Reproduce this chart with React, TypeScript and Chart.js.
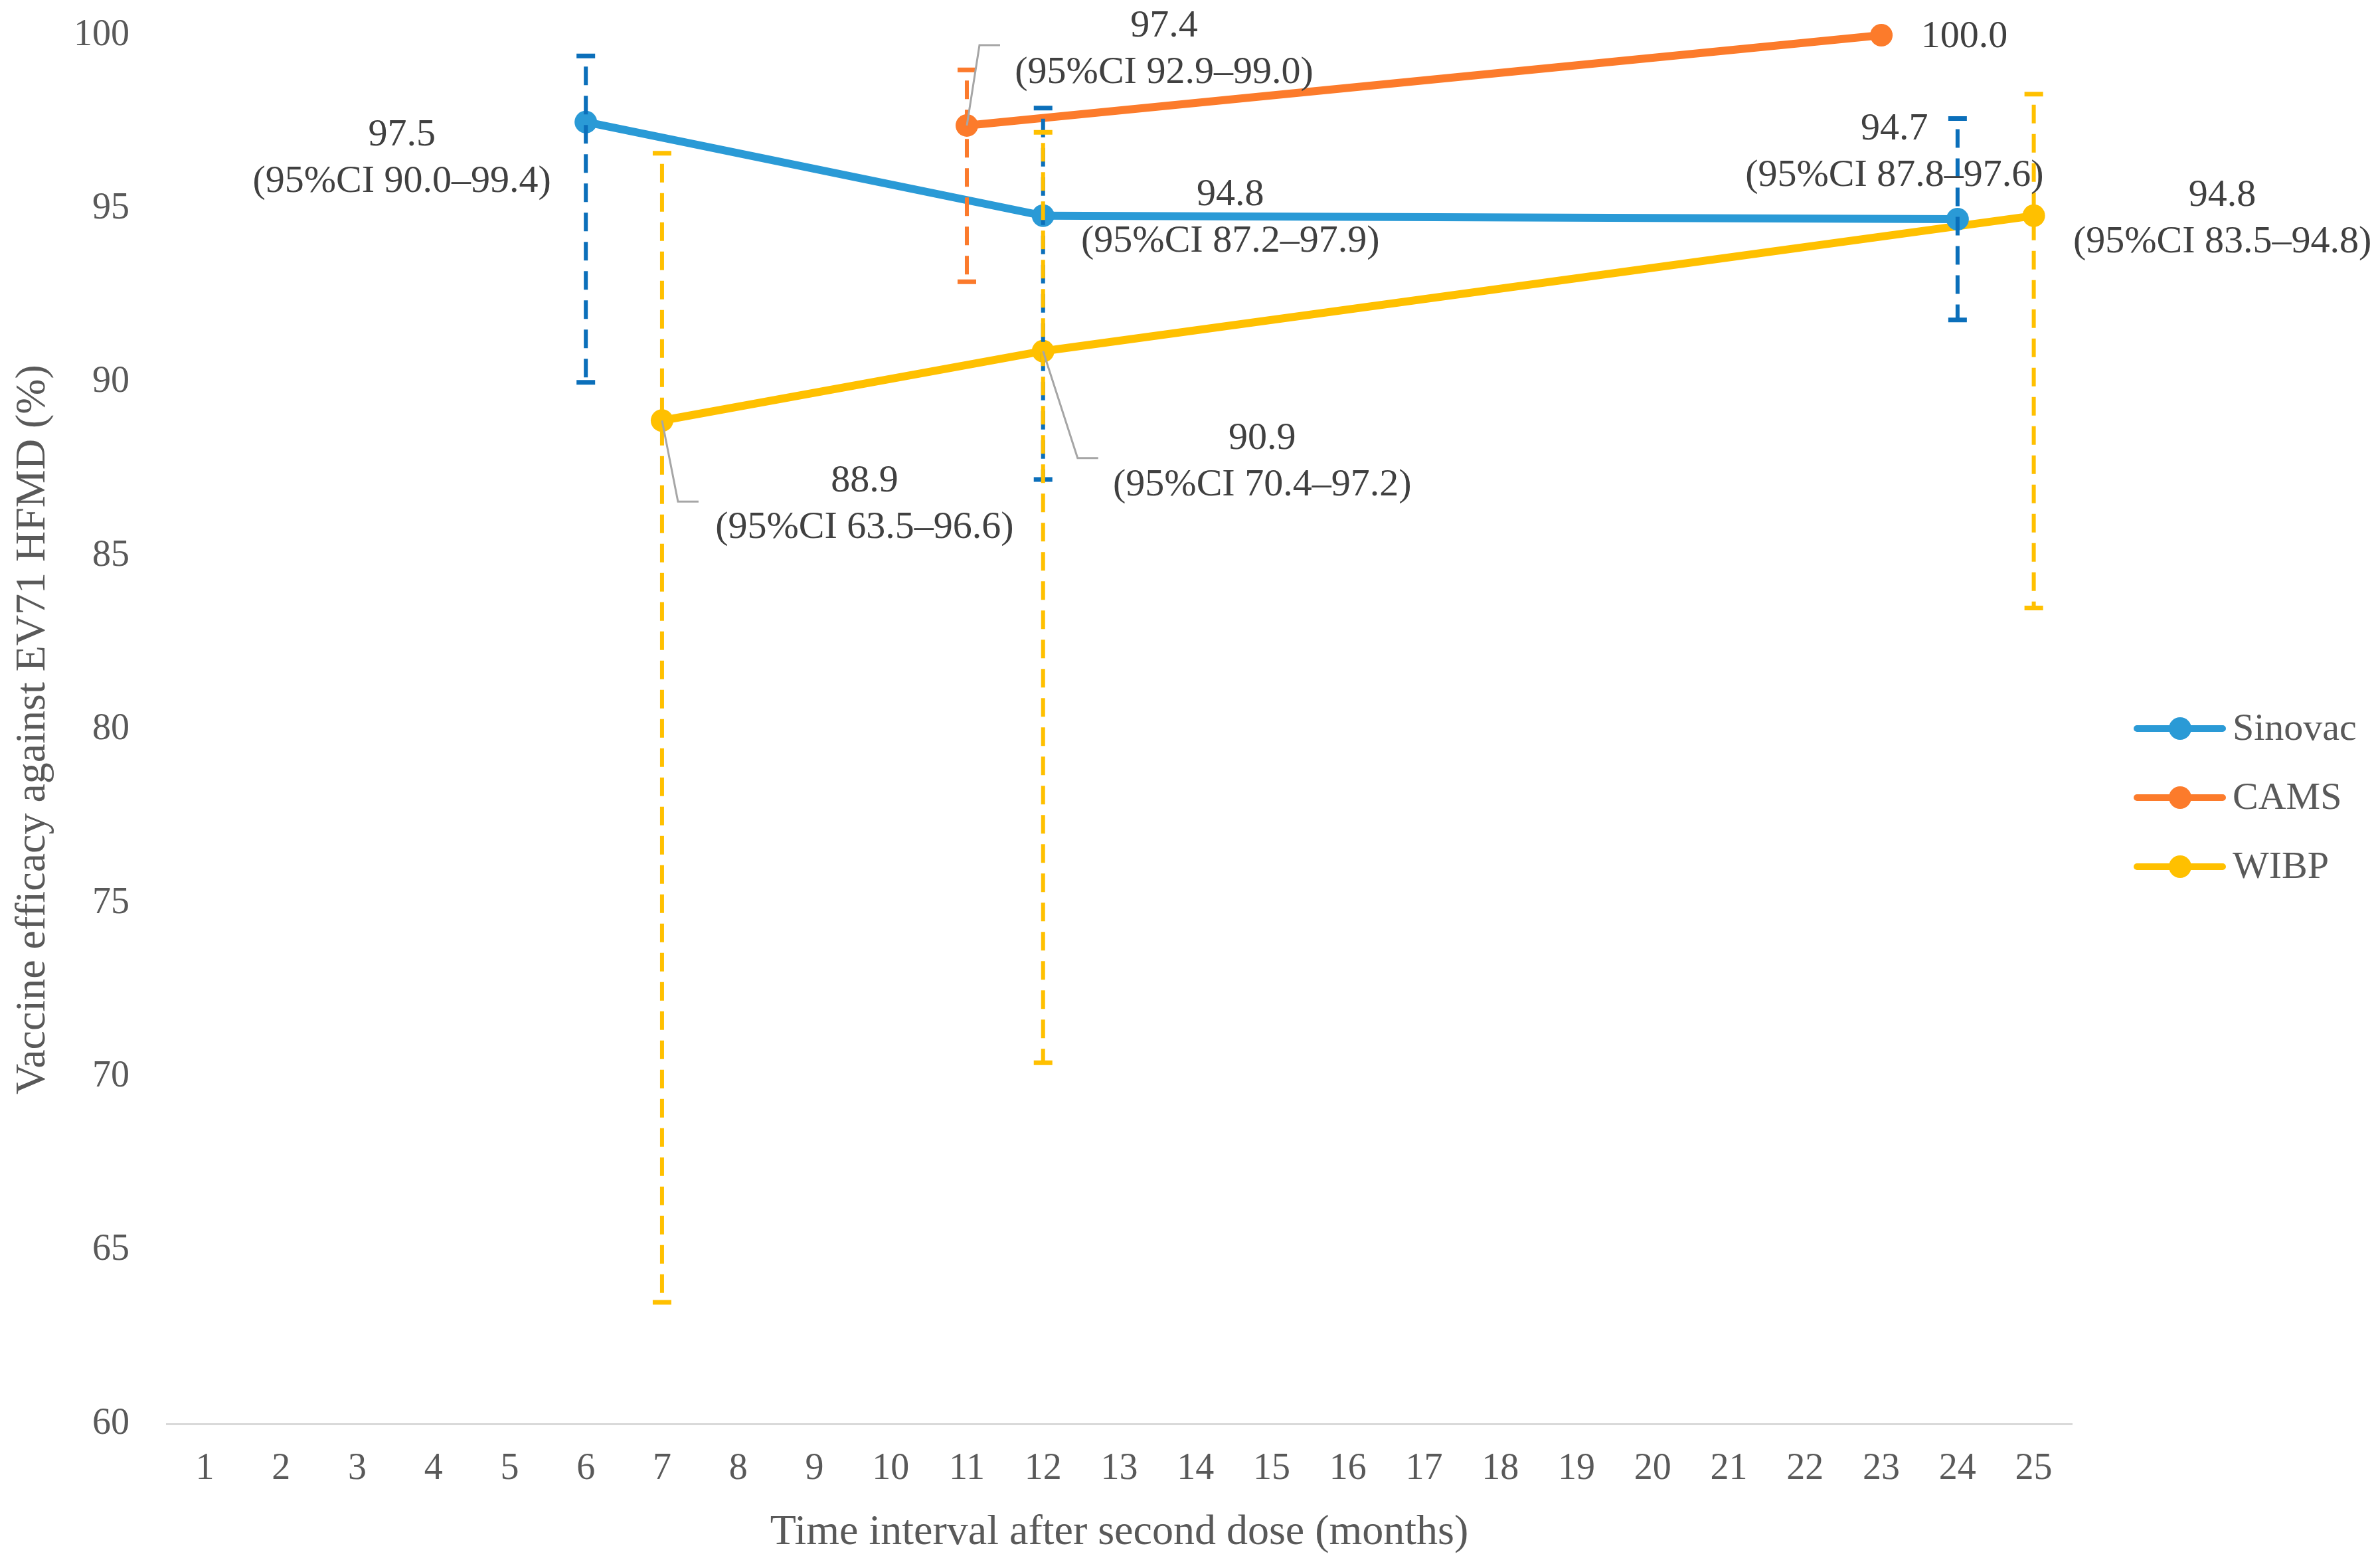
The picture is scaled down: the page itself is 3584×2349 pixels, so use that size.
import { useEffect, useRef } from "react"
import { Chart, registerables } from "chart.js"
import type { Plugin } from "chart.js"

Chart.register(...registerables)

// x categories (months after second dose)
const months = ["1", "2", "3", "4", "5", "6", "7", "8", "9", "10", "11", "12", "13", "14", "15", "16", "17", "18", "19", "20", "21", "22", "23", "24", "25"]

const sinovacMonths = [6, 12, 24]
const sinovacVE = [97.5, 94.8, 94.7]
const sinovacLow = [90.0, 87.2, 91.8]
const sinovacHigh = [99.4, 97.9, 97.6]
const sinovacCI = ["(95%CI 90.0–99.4)", "(95%CI 87.2–97.9)", "(95%CI 87.8–97.6)"]

const camsMonths = [11, 23]
const camsVE = [97.4, 100.0]
const camsLow: (number | null)[] = [92.9, null]
const camsHigh: (number | null)[] = [99.0, null]
const camsCI: (string | null)[] = ["(95%CI 92.9–99.0)", null]

const wibpMonths = [7, 12, 25]
const wibpVE = [88.9, 90.9, 94.8]
const wibpLow = [63.5, 70.4, 83.5]
const wibpHigh = [96.6, 97.2, 98.3]
const wibpCI = ["(95%CI 63.5–96.6)", "(95%CI 70.4–97.2)", "(95%CI 83.5–94.8)"]

const FONT = '"Liberation Serif", "Times New Roman", serif'
const TEXT = "#404040"
const AXIS_TEXT = "#595959"

const toSeries = (ms: number[], vals: number[]) =>
  months.map((m) => {
    const i = ms.indexOf(Number(m))
    return i >= 0 ? vals[i] : null
  })

interface SeriesMeta {
  months: number[]
  values: number[]
  low: (number | null)[]
  high: (number | null)[]
  ci: (string | null)[]
  barColor: string
  // label placement relative to the point, in px
  labelPos: [number, number][]
  leaders: ([number, number][] | null)[]
}

const meta: SeriesMeta[] = [
  {
    months: sinovacMonths,
    values: sinovacVE,
    low: sinovacLow,
    high: sinovacHigh,
    ci: sinovacCI,
    barColor: "#0B6FBA",
    labelPos: [[-277, 20], [282, -31], [-95, -135]],
    leaders: [null, null, null],
  },
  {
    months: camsMonths,
    values: camsVE,
    low: camsLow,
    high: camsHigh,
    ci: camsCI,
    barColor: "#FB7A2C",
    labelPos: [[297, -149], [125, 3]],
    leaders: [[[0, 0], [19, -121], [50, -121]], null],
  },
  {
    months: wibpMonths,
    values: wibpVE,
    low: wibpLow,
    high: wibpHigh,
    ci: wibpCI,
    barColor: "#FFC000",
    labelPos: [[305, 92], [330, 132], [284, -30]],
    leaders: [[[0, 0], [24, 122], [55, 122]], [[0, 0], [52, 161], [83, 161]], null],
  },
]

const errorBars: Plugin<"line"> = {
  id: "errorBars",
  afterDatasetsDraw(chart) {
    const { ctx } = chart
    const x = chart.scales.x
    const y = chart.scales.y
    ctx.save()
    meta.forEach((s) => {
      s.months.forEach((m, i) => {
        const lo = s.low[i]
        const hi = s.high[i]
        if (lo == null || hi == null) return
        const px = x.getPixelForValue(months.indexOf(String(m)))
        const top = y.getPixelForValue(hi)
        const bot = y.getPixelForValue(lo)
        ctx.strokeStyle = s.barColor
        ctx.lineWidth = 6
        ctx.setLineDash([28, 16])
        ctx.lineDashOffset = -16
        ctx.beginPath()
        ctx.moveTo(px, top)
        ctx.lineTo(px, bot)
        ctx.stroke()
        ctx.setLineDash([])
        ctx.lineWidth = 7
        ctx.beginPath()
        ctx.moveTo(px - 14, top)
        ctx.lineTo(px + 14, top)
        ctx.moveTo(px - 14, bot)
        ctx.lineTo(px + 14, bot)
        ctx.stroke()
      })
    })
    ctx.restore()
  },
}

const valueLabels: Plugin<"line"> = {
  id: "valueLabels",
  afterDraw(chart) {
    const { ctx } = chart
    const x = chart.scales.x
    const y = chart.scales.y
    ctx.save()
    meta.forEach((s) => {
      s.months.forEach((m, i) => {
        const px = x.getPixelForValue(months.indexOf(String(m)))
        const py = y.getPixelForValue(s.values[i])
        const lead = s.leaders[i]
        if (lead) {
          ctx.strokeStyle = "#A6A6A6"
          ctx.lineWidth = 3
          ctx.beginPath()
          lead.forEach(([dx, dy], k) => (k === 0 ? ctx.moveTo(px + dx, py + dy) : ctx.lineTo(px + dx, py + dy)))
          ctx.stroke()
        }
        const [dx, dy] = s.labelPos[i]
        ctx.fillStyle = TEXT
        ctx.font = `58px ${FONT}`
        ctx.textAlign = "center"
        ctx.textBaseline = "middle"
        ctx.fillText(s.values[i].toFixed(1), px + dx, py + dy)
        const ci = s.ci[i]
        if (ci) ctx.fillText(ci, px + dx, py + dy + 70)
      })
    })
    ctx.restore()
  },
}

const sideLegend: Plugin<"line"> = {
  id: "sideLegend",
  afterDraw(chart) {
    const { ctx, chartArea } = chart
    ctx.save()
    chart.data.datasets.forEach((ds, i) => {
      const cy = 1097 + i * 104
      const x0 = chartArea.right + 98
      const color = ds.borderColor as string
      ctx.strokeStyle = color
      ctx.lineWidth = 10
      ctx.lineCap = "round"
      ctx.beginPath()
      ctx.moveTo(x0, cy)
      ctx.lineTo(x0 + 129, cy)
      ctx.stroke()
      ctx.fillStyle = color
      ctx.beginPath()
      ctx.arc(x0 + 65, cy, 17, 0, Math.PI * 2)
      ctx.fill()
      ctx.fillStyle = AXIS_TEXT
      ctx.font = `58px ${FONT}`
      ctx.textAlign = "left"
      ctx.textBaseline = "middle"
      ctx.fillText(ds.label ?? "", x0 + 144, cy + 2)
    })
    ctx.restore()
  },
}

const lineStyle = (color: string) => ({
  borderColor: color,
  backgroundColor: color,
  borderWidth: 12,
  pointRadius: 17,
  pointHoverRadius: 17,
  pointBorderWidth: 0,
  spanGaps: true,
  clip: false as const,
  tension: 0,
})

export default function App() {
  const canvasRef = useRef<HTMLCanvasElement>(null)
  const chartRef = useRef<Chart<"line"> | null>(null)

  useEffect(() => {
    if (!canvasRef.current) return
    if (chartRef.current) chartRef.current.destroy()

    chartRef.current = new Chart(canvasRef.current, {
      type: "line",
      data: {
        labels: months,
        datasets: [
          { label: "Sinovac", data: toSeries(sinovacMonths, sinovacVE), ...lineStyle("#2A9AD6") },
          { label: "CAMS", data: toSeries(camsMonths, camsVE), ...lineStyle("#FC7B2B") },
          { label: "WIBP", data: toSeries(wibpMonths, wibpVE), ...lineStyle("#FFC000") },
        ],
      },
      options: {
        animation: false,
        responsive: true,
        maintainAspectRatio: false,
        layout: { padding: { top: 53, right: 464, bottom: 0, left: 0 } },
        plugins: {
          legend: { display: false },
          tooltip: { enabled: false },
        },
        scales: {
          x: {
            type: "category",
            offset: true,
            grid: { display: false, drawTicks: false },
            border: { display: true, color: "#D9D9D9", width: 3 },
            ticks: {
              color: AXIS_TEXT,
              font: { family: FONT, size: 56 },
              padding: 35,
              maxRotation: 0,
              autoSkip: false,
            },
            title: {
              display: true,
              text: "Time interval after second dose (months)",
              color: AXIS_TEXT,
              font: { family: FONT, size: 64 },
              padding: { top: 0, bottom: 2 },
            },
            afterFit: (s) => {
              s.height = 205
            },
          },
          y: {
            min: 60,
            max: 100,
            grid: { display: false, drawTicks: false },
            border: { display: false },
            ticks: {
              stepSize: 5,
              color: AXIS_TEXT,
              font: { family: FONT, size: 56 },
              padding: 56,
            },
            title: {
              display: true,
              text: "Vaccine efficacy against EV71 HFMD (%)",
              color: AXIS_TEXT,
              font: { family: FONT, size: 64 },
              padding: { top: 12, bottom: 0 },
            },
            afterFit: (s) => {
              s.width = 251
              // tick padding would otherwise push the plot top down
              s.paddingTop = 0
              s.paddingBottom = 0
            },
          },
        },
      },
      plugins: [errorBars, valueLabels, sideLegend],
    })

    return () => {
      if (chartRef.current) {
        chartRef.current.destroy()
        chartRef.current = null
      }
    }
  }, [])

  return (
    <div style={{ position: "absolute", left: 0, top: 0, width: 3584, height: 2349, background: "#fff" }}>
      <canvas ref={canvasRef} />
    </div>
  )
}
